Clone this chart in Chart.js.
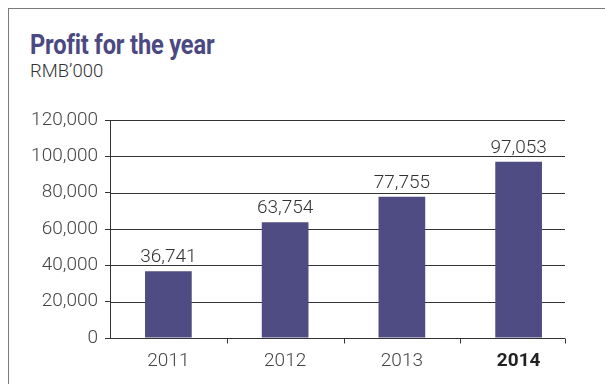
<!DOCTYPE html>
<html>
<head>
<meta charset="utf-8">
<script src="https://cdn.jsdelivr.net/npm/chart.js@4"></script>
<style>
html, body { margin: 0; padding: 0; background: #fff; }
#wrap { position: relative; width: 605px; height: 384px; overflow: hidden; }
#frame { position: absolute; left: 8px; top: 8px; right: -2px; bottom: -2px;
  border-top: 1.5px solid #7a7a7a; border-left: 1.5px solid #7a7a7a; }
#title { position: absolute; left: 30px; top: 31px; font: 700 28px/28px Roboto, sans-serif;
  color: #4b4981; transform: scaleX(0.845); transform-origin: left top; white-space: nowrap; letter-spacing: -0.2px; }
#sub { position: absolute; left: 30px; top: 62px; font: 300 18.5px/18.5px Roboto, sans-serif; color: #333; }
canvas { position: absolute; left: 0; top: 0; }
</style>
</head>
<body>
<div id="wrap">
  <div id="frame"></div>
  <div id="title">Profit for the year</div>
  <div id="sub">RMB’000</div>
  <canvas id="graficoLucro" width="605" height="384"></canvas>
</div>
<script>
// ======================================
// Dados
// ======================================

const anos = ["2011", "2012", "2013", "2014"];

const lucro = [36741, 63754, 77755, 97053];

const ticksY = [0, 20000, 40000, 60000, 80000, 100000, 120000];

const corBarra = "#4f4c83";
const corLinha = "#333333";

function formatar(v) {
    return v.toLocaleString("en-US");
}

// linhas de grade, eixo x e rótulos dos valores
const grade = {
    id: "grade",
    beforeDatasetsDraw(chart) {
        const ctx = chart.ctx;
        const area = chart.chartArea;
        const x = chart.scales.x;
        const y = chart.scales.y;
        const fim = area.right - 12;

        ctx.save();
        ctx.strokeStyle = corLinha;
        ctx.lineWidth = 1;

        ticksY.forEach(function (t) {
            const py = Math.round(y.getPixelForValue(t)) + 0.5;
            ctx.beginPath();
            ctx.moveTo(area.left, py);
            ctx.lineTo(fim, py);
            ctx.stroke();
        });

        // marcas do eixo x entre as categorias
        const base = Math.round(area.bottom) + 0.5;
        const marcas = [];
        for (let i = 0; i < anos.length - 1; i++) {
            marcas.push((x.getPixelForValue(i) + x.getPixelForValue(i + 1)) / 2);
        }
        marcas.push(fim);
        marcas.forEach(function (mx) {
            const px = Math.round(mx) + 0.5;
            ctx.beginPath();
            ctx.moveTo(px, base);
            ctx.lineTo(px, base + 5);
            ctx.stroke();
        });

        ctx.restore();
    },
    afterDatasetsDraw(chart) {
        const ctx = chart.ctx;
        const meta = chart.getDatasetMeta(0);

        ctx.save();
        ctx.font = "300 19px Roboto";
        ctx.fillStyle = "#333";
        ctx.textAlign = "center";
        ctx.textBaseline = "alphabetic";

        meta.data.forEach(function (bar, i) {
            ctx.fillText(formatar(lucro[i]), bar.x, bar.y - 9);
        });

        ctx.restore();
    }
};

// ======================================
// Gráfico de lucro
// ======================================

const lucroCanvas = document.getElementById("graficoLucro");

new Chart(lucroCanvas, {

    type: "bar",

    data: {
        labels: anos,
        datasets: [{
            label: "Profit",
            data: lucro,
            backgroundColor: corBarra,
            barPercentage: 0.4,
            categoryPercentage: 1
        }]
    },

    plugins: [grade],

    options: {
        responsive: false,
        animation: false,
        devicePixelRatio: 1,
        layout: {
            padding: { left: 8, top: 120, right: 28, bottom: 0 }
        },
        plugins: {
            legend: { display: false },
            tooltip: { enabled: false }
        },
        scales: {
            x: {
                grid: { display: false, drawTicks: false },
                border: { display: false },
                ticks: {
                    padding: 12,
                    color: function (c) { return c.index === anos.length - 1 ? "#222" : "#444"; },
                    font: function (c) {
                        return {
                            family: "Roboto",
                            size: 19,
                            weight: c.index === anos.length - 1 ? "bold" : "300"
                        };
                    }
                },
                afterFit: function (s) { s.height = 46; }
            },
            y: {
                min: 0,
                max: 120000,
                afterBuildTicks: function (s) {
                    s.ticks = ticksY.map(function (v) { return { value: v }; });
                },
                grid: {
                    drawOnChartArea: false,
                    drawTicks: true,
                    tickLength: 5,
                    color: corLinha
                },
                border: { display: true, color: corLinha, width: 1 },
                ticks: {
                    padding: 7,
                    color: "#444",
                    font: { family: "Roboto", size: 19, weight: "300" },
                    callback: function (v) { return formatar(v); }
                },
                afterFit: function (s) { s.width = 102; }
            }
        }
    }

});
</script>
</body>
</html>
